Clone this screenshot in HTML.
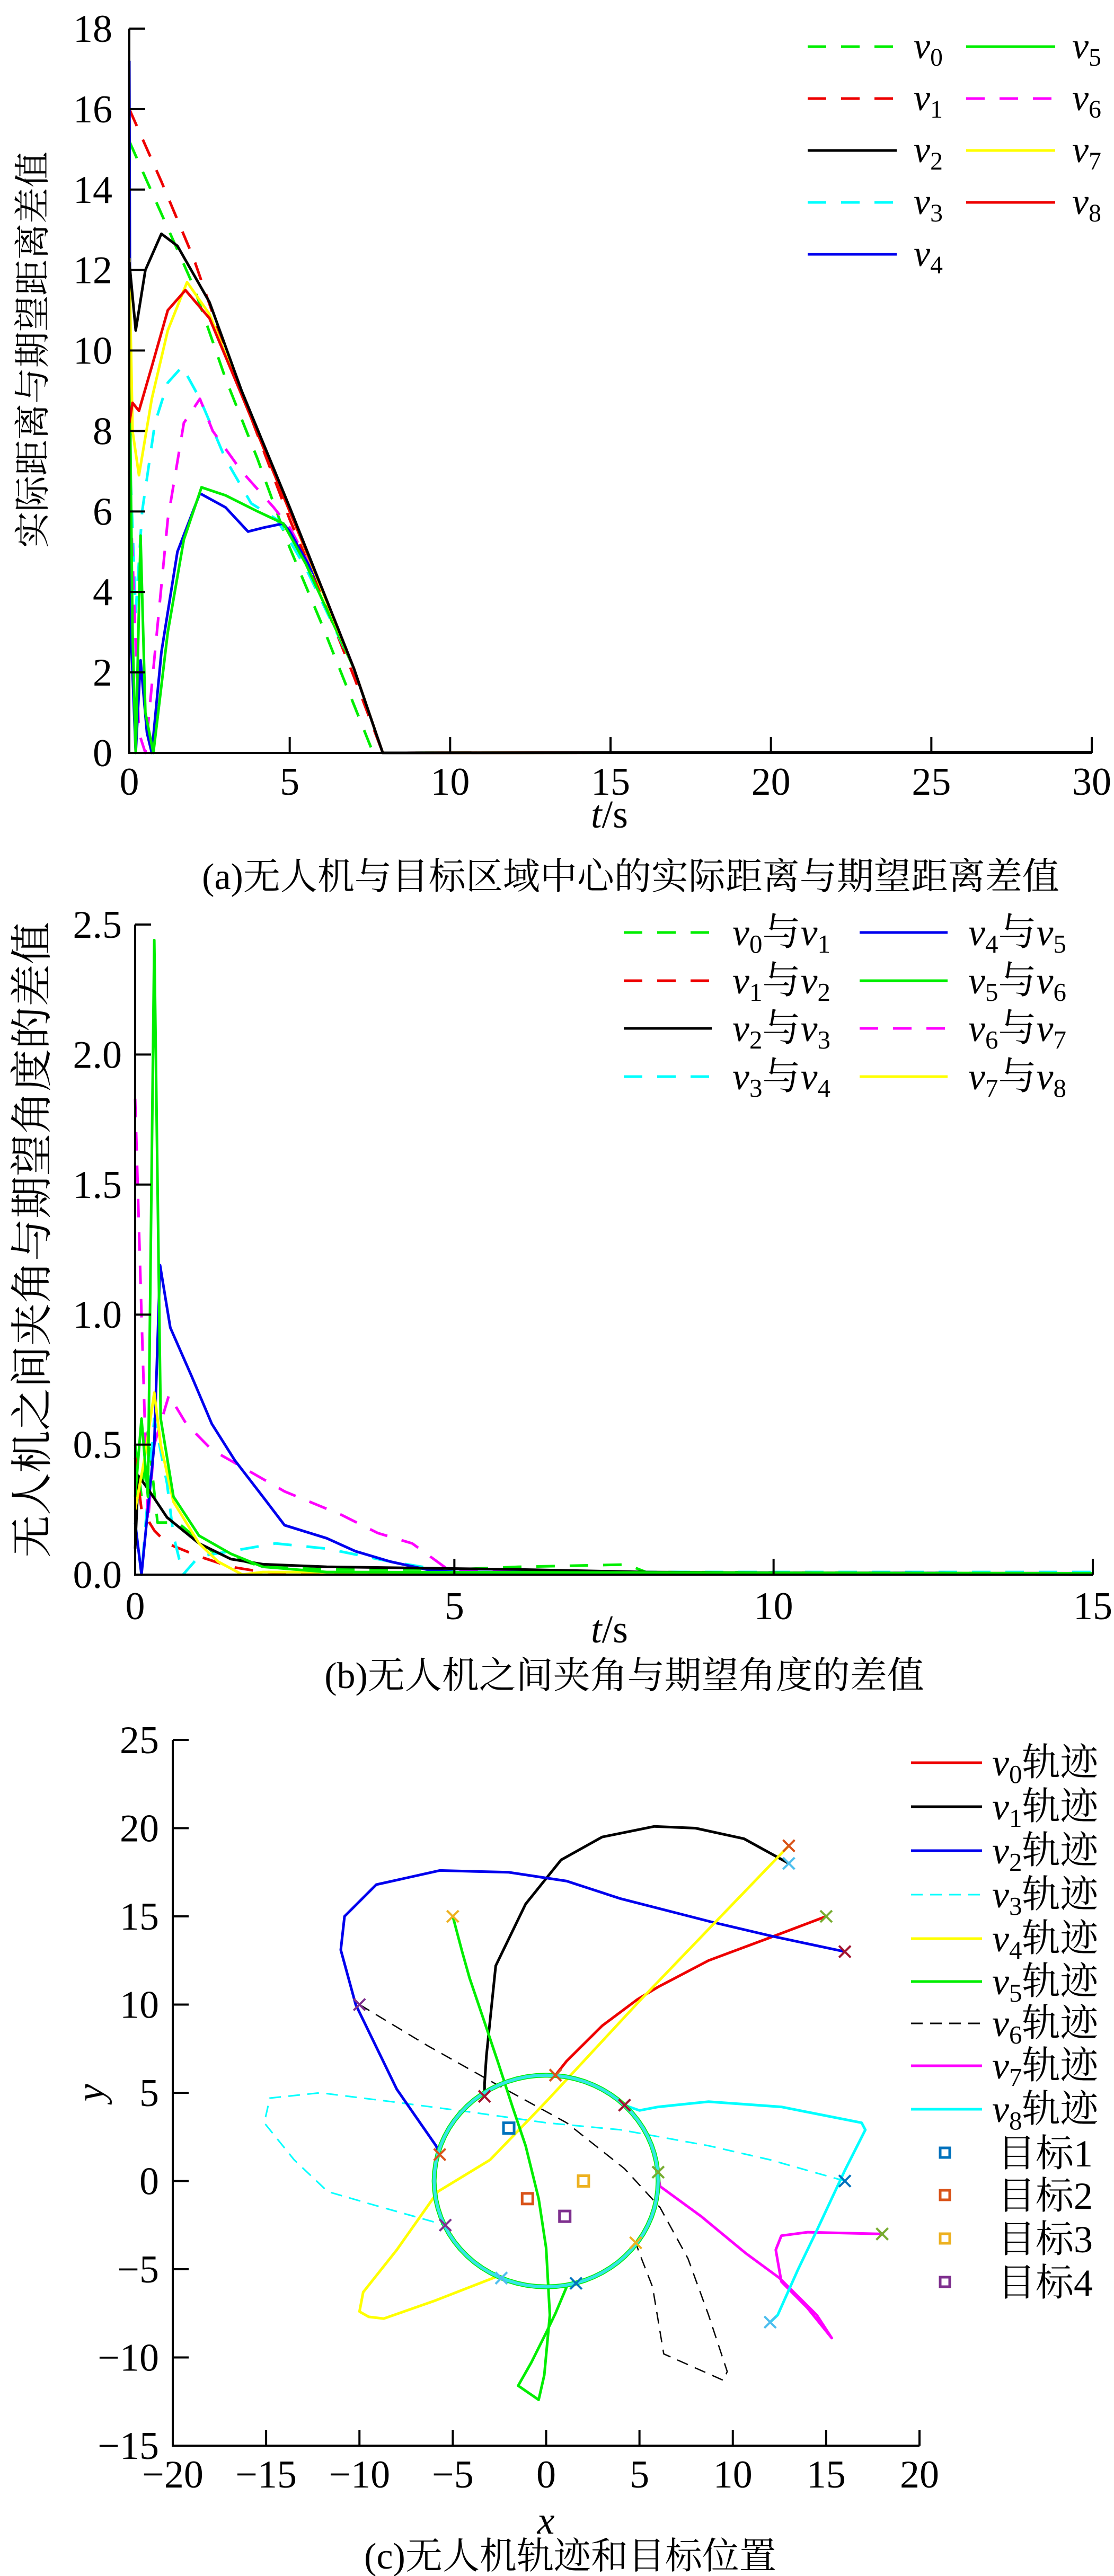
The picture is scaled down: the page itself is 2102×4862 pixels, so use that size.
<!DOCTYPE html>
<html><head><meta charset="utf-8"><style>
html,body{margin:0;padding:0;background:#fff;}
svg{display:block;font-family:"Liberation Serif","Noto Serif CJK SC","Noto Sans CJK SC",serif;}
</style></head><body>
<svg id="fig" xmlns="http://www.w3.org/2000/svg" width="2102" height="4862" viewBox="0 0 2102 4862">
<rect width="2102" height="4862" fill="#fff"/>
<!-- captions & titles -->
<text x="1190" y="1678" font-size="70" text-anchor="middle">(a)无人机与目标区域中心的实际距离与期望距离差值</text>
<text x="1178" y="3186" font-size="70" text-anchor="middle">(b)无人机之间夹角与期望角度的差值</text>
<text x="1076" y="4848" font-size="70" text-anchor="middle">(c)无人机轨迹和目标位置</text>
<text transform="translate(85,660) rotate(-90)" font-size="68" text-anchor="middle">实际距离与期望距离差值</text>
<text transform="translate(88,2340) rotate(-90)" font-size="80" text-anchor="middle">无人机之间夹角与期望角度的差值</text>
<text x="1150" y="1562" font-size="74" text-anchor="middle"><tspan font-style="italic">t</tspan>/s</text>
<text x="1150" y="3100" font-size="74" text-anchor="middle"><tspan font-style="italic">t</tspan>/s</text>
<text x="1030" y="4782" font-size="74" font-style="italic" text-anchor="middle">x</text>
<text transform="translate(195,3950) rotate(-90)" font-size="74" font-style="italic" text-anchor="middle">y</text>
<g id="pa"></g>
<g id="pb"></g>
<g id="pc"></g>
</svg>
<script>
const NS='http://www.w3.org/2000/svg';
// ---------- Panel A data ----------
const aXTicks=[0,5,10,15,20,25,30];
const aYTicks=[0,2,4,6,8,10,12,14,16,18];
const aNames=['v0','v1','v2','v3','v4','v5','v6','v7','v8'];
const aV0=[[0,15.2],[1,13.4],[2,11.6],[3,9.3],[4,7.3],[5,5.1],[6,3.2],[7,1.2],[7.6,0],[30,0.02]];
const aV1=[[0,16],[1,14.2],[2,12.3],[3,10.0],[4,7.9],[5,5.8],[6,3.9],[7,1.9],[7.9,0],[30,0.02]];
const aV2=[[0,12.2],[0.2,10.5],[0.5,12.0],[1.0,12.9],[1.5,12.6],[2.5,11.2],[3.5,9.0],[5,6.1],[6,4.1],[7,2.1],[7.9,0],[30,0.02]];
const aV3=[[0,7.7],[0.2,3.5],[0.4,6.0],[0.8,8.2],[1.2,9.2],[1.65,9.6],[2.2,8.8],[3,7.3],[3.8,6.2],[4.6,5.8],[5.5,4.6],[7,2.1],[7.9,0],[30,0.02]];
const aV4=[[0,17.2],[0.05,3],[0.2,0],[0.35,2.3],[0.55,0.5],[0.7,0],[1.0,2.5],[1.5,5.0],[2.2,6.45],[3,6.1],[3.7,5.5],[4.2,5.6],[4.8,5.7],[5,5.5],[6,4.1],[7,2.1],[7.9,0],[30,0.02]];
const aV5=[[0,10],[0.1,3],[0.2,0],[0.35,5.4],[0.5,1],[0.75,0],[1.2,3],[1.7,5.3],[2.25,6.6],[3,6.4],[4,6.0],[4.8,5.7],[5.5,4.7],[7,2.1],[7.9,0],[30,0.02]];
const aV6=[[0,7],[0.3,0.5],[0.5,0],[0.8,2.5],[1.2,5.8],[1.7,8.2],[2.2,8.8],[2.6,8.0],[3.5,7.0],[4.5,6.1],[5,5.6],[6,4.1],[7,2.1],[7.9,0],[30,0.02]];
const aV7=[[0,12.3],[0.1,8.0],[0.3,6.9],[0.7,8.8],[1.2,10.5],[1.8,11.7],[2.5,10.9],[3.5,8.9],[5,6.0],[7,2.1],[7.9,0],[30,0.02]];
const aV8=[[0,8.2],[0.1,8.7],[0.3,8.5],[0.7,9.6],[1.2,11.0],[1.75,11.5],[2.5,10.8],[3.5,8.9],[5,6.0],[6,4.1],[7,2.1],[7.9,0],[30,0.02]];
// ---------- Panel B data ----------
const bXTicks=[0,5,10,15];
const bYTicks=[0,0.5,1.0,1.5,2.0,2.5];
const bYLabels=['0.0','0.5','1.0','1.5','2.0','2.5'];
const bP01=[[0,0.5],[0.1,0.3],[0.2,0.55],[0.35,0.2],[0.67,0.2],[1.2,0.09],[2,0.03],[3,0.02],[5,0.02],[6,0.03],[7.7,0.039],[8,0.01],[15,0.005]];
const bP12=[[0,0.45],[0.1,0.25],[0.3,0.17],[0.5,0.12],[1,0.07],[1.5,0.03],[2,0.01],[3,0.005],[15,0]];
const bP23=[[0,0.1],[0.05,0.38],[0.2,0.33],[0.5,0.22],[1,0.12],[1.5,0.06],[2,0.04],[3,0.03],[4.5,0.025],[6,0.02],[8,0.01],[15,0.0]];
const bP34=[[0,0.2],[0.1,0.0],[0.3,0.6],[0.5,0.35],[0.6,0.15],[0.75,0],[1,0.07],[1.5,0.09],[2.2,0.12],[3,0.1],[4,0.05],[4.5,0.03],[5,0.01],[15,0.01]];
const bP45=[[0,0.2],[0.1,0.0],[0.3,0.5],[0.39,1.19],[0.55,0.95],[0.89,0.76],[1.2,0.58],[1.56,0.44],[2,0.3],[2.34,0.19],[3,0.14],[3.45,0.09],[4,0.05],[4.56,0.02],[5,0.01],[15,0.005]];
const bP56=[[0,0.3],[0.1,0.6],[0.2,0.3],[0.3,2.44],[0.4,0.6],[0.6,0.3],[1,0.15],[1.5,0.08],[2,0.03],[3,0.01],[15,0.005]];
const bP67=[[0,1.83],[0.1,1.0],[0.2,0.2],[0.3,0.5],[0.53,0.69],[0.8,0.58],[1.2,0.48],[1.56,0.43],[2.34,0.32],[3.23,0.23],[3.8,0.16],[4.34,0.12],[4.9,0.02],[6,0.01],[15,0.005]];
const bP78=[[0,0.25],[0.15,0.45],[0.3,0.7],[0.4,0.5],[0.6,0.28],[1,0.12],[1.3,0.05],[1.68,0.0],[2,0.01],[15,0.005]];
// ---------- Panel C data ----------
const cXTicks=[-20,-15,-10,-5,0,5,10,15,20];
const cYTicks=[-15,-10,-5,0,5,10,15,20,25];
const cV0=[[15,15],[12,13.8],[8.7,12.5],[6,11],[4.9,10.3],[3,8.8],[1.1,6.8],[0.5,6]];
const cV1=[[13,18],[10.6,19.4],[8,20],[5.8,20.1],[3,19.5],[0.8,18.2],[-1.1,15.7],[-2.7,12.2],[-3.2,7.1],[-3.3,5.5],[-3.3,4.8]];
const cV2=[[16,13],[12,13.9],[8.8,14.7],[4,16],[1.1,17],[-2,17.5],[-5.7,17.6],[-9.1,16.8],[-10.8,15],[-11,13.1],[-10.2,10],[-8,5.2],[-5.9,2],[-5.7,1.5]];
const cV3=[[16,0],[12,1.2],[8.7,2],[4,2.9],[0,3.3],[-4,3.9],[-8.3,4.5],[-12.1,5],[-14.8,4.7],[-15.1,3.3],[-13.5,1.2],[-11.7,-0.6],[-9.1,-1.4],[-5.4,-2.5]];
const cV4=[[13,19],[5,10.2],[0,4.5],[-3,1.2],[-5.8,-0.6],[-8,-3.9],[-9.8,-6.3],[-10,-7.4],[-9.5,-7.7],[-8.7,-7.8],[-6,-6.8],[-2.6,-5.4]];
const cV5=[[-5,15],[-4.5,13],[-4.1,11.5],[-3.3,9],[-2.6,6.8],[-1.8,4.2],[-1.1,2],[-0.4,-1],[0,-3.8],[0.2,-7.6],[-0.1,-11],[-0.4,-12.4],[-1.5,-11.6],[-0.8,-10.3],[0,-8.6],[0.5,-7.5],[1.1,-6]];
const cV6=[[-10,10],[-6.4,7.7],[-2.7,5.5],[1.1,3.3],[4.2,0.7],[6.1,-1.5],[7.6,-4.4],[8.7,-7.6],[9.7,-10.8],[9.5,-11.3],[6.3,-9.8],[5.7,-6],[5,-4.1],[4.8,-3.5]];
const cV7=[[18,-3],[14,-2.9],[12.6,-3.1],[12.3,-3.9],[12.6,-5.7],[14,-7.2],[15.3,-8.9],[14.5,-7.6],[12.5,-5.5],[10.7,-4.1],[8.3,-2],[6.1,-0.3],[6,0.4]];
const cV8=[[12,-8],[12.4,-7.6],[13.5,-5],[14.5,-2.8],[16,0.6],[17.1,2.9],[16.9,3.3],[12.6,4.2],[8.7,4.5],[6,4.2],[5,4],[4.2,4.3]];
const cStarts=[[13,19],[13,18],[15,15],[16,13],[-5,15],[-10,10],[16,0],[18,-3],[12,-8]];
const cStartColors=['#D95319','#4DBEEE','#77AC30','#A2142F','#EDB120','#7E2F8E','#0072BD','#77AC30','#4DBEEE'];
const cEnds=[[0.5,6],[-3.3,4.8],[4.2,4.3],[-5.7,1.5],[6,0.5],[-5.4,-2.5],[4.8,-3.5],[-2.4,-5.5],[1.6,-5.8]];
const cEndColors=['#D95319','#A2142F','#A2142F','#D95319','#77AC30','#7E2F8E','#EDB120','#4DBEEE','#0072BD'];
const cTargetsX=[-2,-1,2,1];
const cTargetsY=[3,-1,0,-2];
const cTargetColors=['#0072BD','#D95319','#EDB120','#7E2F8E'];
const cRadius=6;

function mk(parent,tag,attrs){const e=document.createElementNS(NS,tag);for(const k in attrs)e.setAttribute(k,attrs[k]);parent.appendChild(e);return e;}
function lin(d0,d1,p0,p1){return v=>p0+(v-d0)*(p1-p0)/(d1-d0);}
function path(g,pts,sx,sy,color,w,dash,name){
  const d=pts.map((p,i)=>(i?'L':'M')+sx(p[0]).toFixed(1)+','+sy(p[1]).toFixed(1)).join('');
  const e=mk(g,'path',{d:d,fill:'none',stroke:color,'stroke-width':w,'stroke-linejoin':'round'});
  if(dash)e.setAttribute('stroke-dasharray',dash);
  
  
  return e;
}
function txt(g,x,y,s,size,anchor,name){
  const e=mk(g,'text',{x:x,y:y,'font-size':size,'text-anchor':anchor});
  e.textContent=s;
  
  
  return e;
}
function vlabel(g,x,y,parts,name,size){
  // parts: array of [text,type] type: 'v' italic,'s' subscript,'n' normal
  const e=mk(g,'text',{x:x,y:y,'font-size':size});
  let sub=false;
  parts.forEach(p=>{
    const t=document.createElementNS(NS,'tspan');
    t.textContent=p[0];
    if(p[1]==='v'){t.setAttribute('font-style','italic');if(sub){t.setAttribute('dy',-14);sub=false;}}
    else if(p[1]==='s'){t.setAttribute('font-size',size*0.68);t.setAttribute('dy',14);sub=true;}
    else {if(sub){t.setAttribute('dy',-14);sub=false;}}
    e.appendChild(t);
  });
  
  
}
function axes(g,x0,x1,y0,y1,xt,yt,sx,sy,ylabels,xlabels,yLabX,xLabY,pre){
  mk(g,'path',{d:`M${x0},${y1}V${y0}H${x1}`,fill:'none',stroke:'#000','stroke-width':4});
  xt.forEach((v,i)=>{
    const t=mk(g,'line',{x1:sx(v),x2:sx(v),y1:y0,y2:y0-30,stroke:'#000','stroke-width':4});
    
    
    txt(g,sx(v),xLabY,xlabels[i],74,'middle',pre+'x-tick-label');
  });
  yt.forEach((v,i)=>{
    const t=mk(g,'line',{x1:x0,x2:x0+30,y1:sy(v),y2:sy(v),stroke:'#000','stroke-width':4});
    
    
    txt(g,yLabX,sy(v)+25,ylabels[i],74,'end',pre+'y-tick-label');
  });
}
const fmtMinus=v=>v<0?'\u2212'+(-v):String(v);

// ===== Panel A =====
(function(){
  const g=document.getElementById('pa');
  const sx=lin(0,30,244,2060), sy=lin(0,18,1421,54);
  const order=[[aV0,'#00ee00','35 28','v0'],[aV1,'#ee0000','35 28','v1'],[aV3,'#00ffff','35 28','v3'],[aV6,'#ff00ff','35 28','v6'],[aV4,'#0000ee',null,'v4'],[aV5,'#00ee00',null,'v5'],[aV7,'#ffff00',null,'v7'],[aV8,'#ee0000',null,'v8'],[aV2,'#000000',null,'v2']];
  order.forEach(o=>path(g,o[0],sx,sy,o[1],5,o[2],'series-'+o[3]));
  axes(g,244,2060,1421,54,aXTicks,aYTicks,sx,sy,aYTicks.map(String),aXTicks.map(String),212,1500,'a-');
  const leg=[['0','#00ee00','35 28',1524,88],['1','#ee0000','35 28',1524,186],['2','#000',null,1524,284],['3','#00ffff','35 28',1524,382],['4','#0000ee',null,1524,480],
             ['5','#00ee00',null,1823,88],['6','#ff00ff','35 28',1823,186],['7','#ffff00',null,1823,284],['8','#ee0000',null,1823,382]];
  leg.forEach(l=>{
    path(g,[[0,0],[1,0]],v=>l[3]+v*168,v=>l[4],l[1],5,l[2],'legend-line-v'+l[0]);
    vlabel(g,l[3]+200,l[4]+22,[['v','v'],[l[0],'s']],'legend-entry-v'+l[0],70);
  });
})();

// ===== Panel B =====
(function(){
  const g=document.getElementById('pb');
  const sx=lin(0,15,255,2062), sy=lin(0,2.5,2972,1745);
  const order=[[bP01,'#00ee00','35 28','v0-v1'],[bP12,'#ee0000','35 28','v1-v2'],[bP34,'#00ffff','35 28','v3-v4'],[bP67,'#ff00ff','35 28','v6-v7'],[bP45,'#0000ee',null,'v4-v5'],[bP23,'#000',null,'v2-v3'],[bP78,'#ffff00',null,'v7-v8'],[bP56,'#00ee00',null,'v5-v6']];
  order.forEach(o=>path(g,o[0],sx,sy,o[1],5,o[2],'series-'+o[3]));
  axes(g,255,2062,2972,1745,bXTicks,bYTicks,sx,sy,bYLabels,bXTicks.map(String),230,3056,'b-');
  const leg=[['0','1','#00ee00','35 28',1177,1760],['1','2','#ee0000','35 28',1177,1851],['2','3','#000',null,1177,1941],['3','4','#00ffff','35 28',1177,2032],
             ['4','5','#0000ee',null,1622,1760],['5','6','#00ee00',null,1622,1851],['6','7','#ff00ff','35 28',1622,1941],['7','8','#ffff00',null,1622,2032]];
  leg.forEach(l=>{
    path(g,[[0,0],[1,0]],v=>l[4]+v*166,v=>l[5],l[2],5,l[3],'legend-line-v'+l[0]+'-v'+l[1]);
    vlabel(g,l[4]+205,l[5]+24,[['v','v'],[l[0],'s'],['与','n'],['v','v'],[l[1],'s']],'legend-entry-v'+l[0]+'-v'+l[1],72);
  });
})();

// ===== Panel C =====
(function(){
  const g=document.getElementById('pc');
  const sx=lin(-20,20,326,1735), sy=lin(25,-15,3284,4616);
  const series=[[cV3,'#00ffff',3,'22 14','v3'],[cV6,'#000',2.5,'22 14','v6'],[cV0,'#ee0000',5,null,'v0'],[cV1,'#000',5,null,'v1'],[cV2,'#0000ee',5,null,'v2'],[cV4,'#ffff00',5,null,'v4'],[cV5,'#00ee00',5,null,'v5'],[cV7,'#ff00ff',5,null,'v7'],[cV8,'#00ffff',5,null,'v8']];
  series.forEach(s=>path(g,s[0],sx,sy,s[1],s[2],s[3],'trajectory-'+s[4]));
  // formation circle
  const circ=[];for(let i=0;i<=72;i++){const a=i/72*2*Math.PI;circ.push([cRadius*Math.cos(a),cRadius*Math.sin(a)]);}
  path(g,circ,sx,sy,'#00ee00',9,null,'formation-circle-under');
  path(g,circ,sx,sy,'#33e6e6',6,null,'formation-circle');
  axes(g,326,1735,4616,3284,cXTicks,cYTicks,sx,sy,cYTicks.map(fmtMinus),cXTicks.map(fmtMinus),300,4695,'c-');
  function cross(x,y,c,name){
    const X=sx(x),Y=sy(y),r=11;
    const e=mk(g,'path',{d:`M${X-r},${Y-r}L${X+r},${Y+r}M${X-r},${Y+r}L${X+r},${Y-r}`,stroke:c,'stroke-width':4,fill:'none'});
    
    
  }
  cStarts.forEach((p,i)=>cross(p[0],p[1],cStartColors[i],'start-marker'));
  cEnds.forEach((p,i)=>cross(p[0],p[1],cEndColors[i],'end-marker'));
  cTargetsX.forEach((x,i)=>{
    const e=mk(g,'rect',{x:sx(x)-10,y:sy(cTargetsY[i])-10,width:20,height:20,fill:'none',stroke:cTargetColors[i],'stroke-width':5});
    
    
  });
  const legY=[3327,3410,3493,3576,3659,3740,3819,3899,3981];
  const legC=['#ee0000','#000','#0000ee','#00ffff','#ffff00','#00ee00','#000','#ff00ff','#00ffff'];
  const legD=[null,null,null,'22 14',null,null,'22 14',null,null];
  legY.forEach((y,i)=>{
    path(g,[[0,0],[1,0]],v=>1719+v*134,v=>y,legC[i],(legD[i]?3:5),legD[i],'legend-line-v'+i);
    vlabel(g,1872,y+24,[['v','v'],[String(i),'s'],['轨迹','n']],'legend-entry-v'+i,72);
  });
  const tY=[4063,4143,4225,4307];
  tY.forEach((y,i)=>{
    const e=mk(g,'rect',{x:1774,y:y-9,width:18,height:18,fill:'none',stroke:cTargetColors[i],'stroke-width':5});
    
    
    txt(g,1882,y+26,'目标'+(i+1),72,'start','legend-entry-target-'+(i+1));
  });
})();
</script>
</body></html>
